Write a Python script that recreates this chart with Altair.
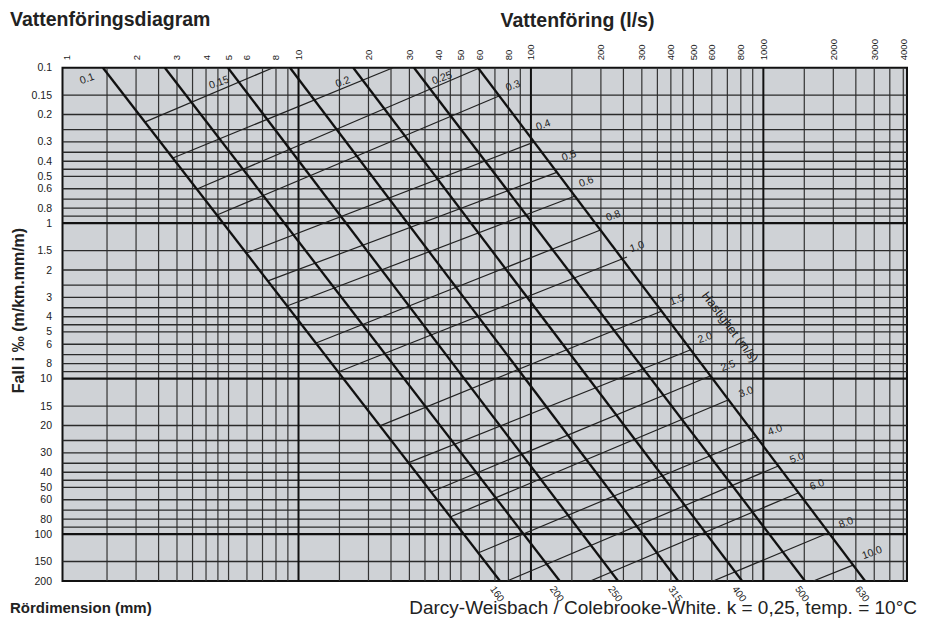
import altair as alt
import pandas as pd

FONT = "Liberation Sans"

# ---- axis tick labels ----
flow_ticks = [1, 2, 3, 4, 5, 6, 8, 10, 20, 30, 40, 50, 60, 80, 100, 200, 300, 400,
              500, 600, 800, 1000, 2000, 3000, 4000]
fall_ticks = [0.1, 0.15, 0.2, 0.3, 0.4, 0.5, 0.6, 0.8, 1, 1.5, 2, 3, 4, 5, 6, 8, 10,
              15, 20, 30, 40, 50, 60, 80, 100, 150, 200]

# ---- grid lines ----
grid_flow = [1.5, 2, 2.5, 3, 3.5, 4, 4.5, 5, 6, 7, 8, 9, 15, 20, 25, 30, 35, 40, 45,
             50, 60, 70, 80, 90, 150, 200, 250, 300, 350, 400, 450, 500, 600, 700,
             800, 900, 1500, 2000, 2500, 3000, 3500, 4000]
grid_flow_major = [10, 100, 1000]
grid_fall = [0.15, 0.2, 0.25, 0.3, 0.35, 0.4, 0.45, 0.5, 0.6, 0.7, 0.8, 0.9, 1.5, 2,
             2.5, 3, 3.5, 4, 4.5, 5, 6, 7, 8, 9, 15, 20, 25, 30, 35, 40, 45, 50, 60,
             70, 80, 90, 150]
grid_fall_major = [1, 10, 100]

# ---- pipe dimension lines (flow at fall 0.1 ‰ and at fall 200 ‰) ----
pipe_dim = ["160", "200", "250", "315", "400", "500", "630"]
pipe_q_top = [1.44, 2.66, 4.97, 9.19, 17.2, 31.4, 59.2]
pipe_fall_top = [0.1, 0.1, 0.1, 0.1, 0.1, 0.1, 0.1]
pipe_q_bottom = [73.6, 133, 237, 430, 810, 1510, 2740]
pipe_fall_bottom = [200, 200, 200, 200, 200, 200, 200]

# ---- velocity lines (m/s) ----
vel_line = ["0.15", "0.2", "0.25", "0.3", "0.4", "0.5", "0.6", "0.8", "1.0", "1.5",
            "2.0", "2.5", "3.0", "4.0", "5.0", "6.0", "8.0", "10.0"]
vel_q_start = [2.19, 2.88, 3.66, 4.46, 5.94, 7.39, 8.92, 11.9, 14.8, 22.4, 29.6, 37.2,
               44.9, 59.2, 78.9, 180, 608, 1640]
vel_fall_start = [0.223, 0.381, 0.603, 0.885, 1.56, 2.35, 3.41, 5.89, 9.06, 20.1, 34.8,
                  53.5, 77.5, 132, 200, 200, 200, 200]
vel_q_end = [7.77, 25.5, 60.4, 72.9, 103, 130, 155, 198, 259, 366, 484, 590, 705, 921,
             1160, 1410, 1900, 2430]
vel_fall_end = [0.1, 0.1, 0.1, 0.152, 0.301, 0.469, 0.668, 1.11, 1.65, 3.67, 6.54, 9.61,
                13.7, 23.7, 36.4, 54.3, 98.2, 158]

# ---- velocity labels ----
vel_label = ["0.1", "0.15", "0.2", "0.25", "0.3", "0.4", "0.5", "0.6", "0.8", "1.0",
             "1.5", "2.0", "2.5", "3.0", "4.0", "5.0", "6.0", "8.0", "10.0"]
vel_label_q = [1.23, 4.55, 15.5, 41.5, 83.8, 113, 146, 173, 226, 286, 425, 561, 705,
               842, 1123, 1396, 1702, 2269, 2936]
vel_label_fall = [0.118, 0.125, 0.124, 0.117, 0.131, 0.234, 0.370, 0.543, 0.899, 1.42,
                  3.12, 5.47, 8.28, 12.2, 21.4, 32.4, 48.3, 84.7, 132]

speed_title = ["Hastighet (m/s)"]
speed_title_q = [719]
speed_title_fall = [4.65]

# ---- layout numbers ----
PW, PH = 844.5, 513.3

xscale = alt.Scale(type="log", domain=[0.965, 4150], nice=False, zero=False)
yscale = alt.Scale(type="log", domain=[0.1, 200], nice=False, zero=False, reverse=True)

xaxis = alt.Axis(orient="top", values=flow_ticks, format="~g", labelAngle=270,
                 labelAlign="left", labelBaseline="middle", labelFontSize=9.5,
                 labelFont=FONT, labelColor="#1a1a1a", labelPadding=8, ticks=False,
                 domain=False, grid=False, labelOverlap=False, labelFlush=False,
                 title="Vattenföring (l/s)", titleFontSize=19.5, titleFont=FONT,
                 titleFontWeight="bold", titleColor="#222", titleX=514.5,
                 titleY=-41.2, titleAlign="center", titleBaseline="alphabetic")
yaxis = alt.Axis(orient="left", values=fall_ticks, format="~g", labelFontSize=10.5,
                 labelFont=FONT, labelColor="#1a1a1a", labelPadding=11, ticks=False,
                 domain=False, grid=False, labelOverlap=False, labelFlush=False,
                 title="Fall i ‰ (m/km.mm/m)", titleFontSize=16, titleFont=FONT,
                 titleFontWeight="bold", titleColor="#222", titleAngle=270,
                 titleX=-44.5, titleY=242.3, titleAlign="center",
                 titleBaseline="middle")


def X(f):
    return alt.X(f, type="quantitative", scale=xscale, axis=xaxis)


def Y(f):
    return alt.Y(f, type="quantitative", scale=yscale, axis=yaxis)


vgrid = alt.Chart(pd.DataFrame({"q": grid_flow})).mark_rule(
    color="#333", strokeWidth=1.2).encode(x=X("q"))
vgrid_major = alt.Chart(pd.DataFrame({"q": grid_flow_major})).mark_rule(
    color="#111", strokeWidth=2).encode(x=X("q"))
hgrid = alt.Chart(pd.DataFrame({"j": grid_fall})).mark_rule(
    color="#2a2a2a", strokeWidth=1.4).encode(y=Y("j"))
hgrid_major = alt.Chart(pd.DataFrame({"j": grid_fall_major})).mark_rule(
    color="#111", strokeWidth=2.2).encode(y=Y("j"))

pipes_df = pd.DataFrame({"dim": pipe_dim, "q1": pipe_q_top, "j1": pipe_fall_top,
                         "q2": pipe_q_bottom, "j2": pipe_fall_bottom})
pipes = alt.Chart(pipes_df).mark_rule(color="#111", strokeWidth=2.3, clip=True).encode(
    x=X("q1"), y=Y("j1"), x2="q2", y2="j2")
pipe_labels = alt.Chart(pipes_df).mark_text(
    angle=55, fontSize=10, font=FONT, color="#222", dx=9, dy=10,
    align="center", baseline="middle").encode(x=X("q2"), y=Y("j2"), text="dim:N")

vel_df = pd.DataFrame({"v": vel_line, "q1": vel_q_start, "j1": vel_fall_start,
                       "q2": vel_q_end, "j2": vel_fall_end})
vels = alt.Chart(vel_df).mark_rule(color="#222", strokeWidth=1.2, clip=True).encode(
    x=X("q1"), y=Y("j1"), x2="q2", y2="j2")

vlab_df = pd.DataFrame({"t": vel_label, "q": vel_label_q, "j": vel_label_fall})
vel_labels = alt.Chart(vlab_df).mark_text(
    angle=340, fontSize=10.5, font=FONT, color="#222", align="center",
    baseline="middle").encode(x=X("q"), y=Y("j"), text="t:N")

speed_df = pd.DataFrame({"t": speed_title, "q": speed_title_q, "j": speed_title_fall})
speed_lab = alt.Chart(speed_df).mark_text(
    angle=53, fontSize=12.5, font=FONT, color="#222", align="center",
    baseline="middle").encode(x=X("q"), y=Y("j"), text="t:N")


def note(txt, x, y, size, weight, align):
    return alt.Chart(pd.DataFrame({"t": [txt]})).mark_text(
        align=align, baseline="alphabetic", fontSize=size, fontWeight=weight,
        font=FONT, color="#222").encode(x=alt.value(x), y=alt.value(y), text="t:N")


title_l = note("Vattenföringsdiagram", -52.5, -41.2, 19.5, "bold", "left")
foot_l = note("Rördimension (mm)", -52.5, 545.3, 15, "bold", "left")
foot_r = note("Darcy-Weisbach / Colebrooke-White. k = 0,25, temp. = 10°C",
              854.5, 546.3, 19, "normal", "right")

chart = alt.layer(
    vgrid, hgrid, vgrid_major, hgrid_major, vels, pipes, pipe_labels, vel_labels,
    speed_lab, title_l, foot_l, foot_r
).properties(
    width=PW, height=PH,
    autosize=alt.AutoSizeParams(type="none"),
    padding={"left": 54.5, "top": 59.7, "right": 10, "bottom": 45},
    background="white",
).configure_view(fill="#cfd2d6", stroke="#111", strokeWidth=2)

chart.save("out.html", embed_options={"renderer": "svg", "actions": False})
